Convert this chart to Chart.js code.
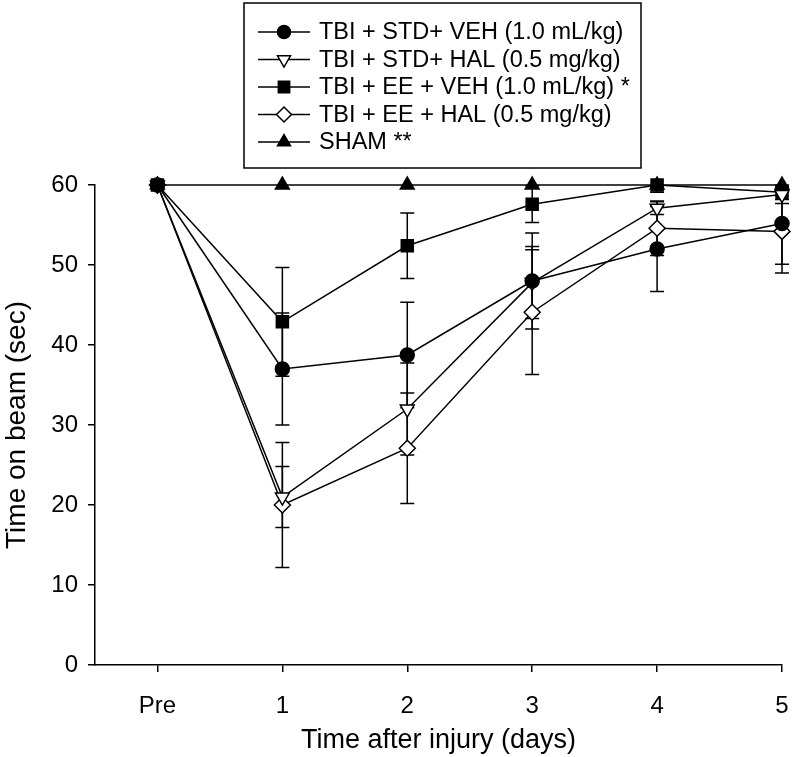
<!DOCTYPE html>
<html lang="en">
<head>
<meta charset="UTF-8">
<title>Time on beam</title>
<script src="https://cdn.jsdelivr.net/npm/chart.js"></script>
<style>
  body { margin: 0; background: #fff; }
  .chart-container { width: 792px; height: 757px; position: relative; }
</style>
</head>
<body>
<div class="chart-container"><canvas id="beamChart"></canvas></div>
<script>
// x categories
const dayLabels = ['Pre', '1', '2', '3', '4', '5'];
const yTicks = [0, 10, 20, 30, 40, 50, 60];

// series (mean, +/- error)
const stdVeh    = [60, 37.0, 38.75, 48.0, 52.0, 55.2];
const stdVehErr = [0, 7.0, 6.6, 6.0, 5.3, 5.1];
const stdHal    = [60, 21.0, 32.0, 47.8, 57.1, 58.8];
const stdHalErr = [0, 3.8, 5.75, 4.5, 0.8, 1.1];
const eeVeh     = [60, 42.9, 52.4, 57.6, 60.0, 59.1];
const eeVehErr  = [0, 6.8, 4.1, 2.3, 0.9, 0.9];
const eeHal     = [60, 20.0, 27.1, 44.1, 54.6, 54.2];
const eeHalErr  = [0, 7.8, 6.9, 7.8, 3.4, 5.2];
const sham      = [60, 60, 60, 60, 60, 60];

const seriesNames = [
    'TBI + STD+ VEH (1.0 mL/kg)',
    'TBI + STD+ HAL (0.5 mg/kg)',
    'TBI + EE + VEH (1.0 mL/kg) *',
    'TBI + EE + HAL (0.5 mg/kg)',
    'SHAM **'
];

const FONT = "'Liberation Sans', Arial, Helvetica, sans-serif";

function toPoints(arr) {
    return arr.map((v, i) => ({ x: i, y: v }));
}

function makeSet(name, values, errs, style, filled, radius, rotation) {
    return {
        label: name,
        data: toPoints(values),
        errors: errs,
        borderColor: '#000',
        borderWidth: 1.5,
        backgroundColor: filled ? '#000' : '#fff',
        pointStyle: style,
        pointRadius: radius,
        pointHoverRadius: radius,
        pointRotation: rotation || 0,
        pointBorderWidth: 1.5,
        pointBorderColor: '#000',
        pointBackgroundColor: filled ? '#000' : '#fff',
        tension: 0,
        fill: false,
        clip: false
    };
}

const datasets = [
    makeSet(seriesNames[4], sham, null, 'triangle', true, 8, 0),
    makeSet(seriesNames[0], stdVeh, stdVehErr, 'circle', true, 7, 0),
    makeSet(seriesNames[1], stdHal, stdHalErr, 'triangle', false, 8, 180),
    makeSet(seriesNames[2], eeVeh, eeVehErr, 'rect', true, 8.5, 0),
    makeSet(seriesNames[3], eeHal, eeHalErr, 'rectRot', false, 8, 0)
];
// legend order as in the figure
const legendOrder = [1, 2, 3, 4, 0];

const errorBars = {
    id: 'errorBars',
    beforeDatasetsDraw(chart) {
        const { ctx, scales: { x, y } } = chart;
        ctx.save();
        ctx.strokeStyle = '#000';
        ctx.lineWidth = 1.5;
        chart.data.datasets.forEach(ds => {
            if (!ds.errors) return;
            ds.data.forEach((p, j) => {
                const e = ds.errors[j];
                if (!e) return;
                const px = x.getPixelForValue(p.x);
                const hi = y.getPixelForValue(p.y + e);
                const lo = y.getPixelForValue(p.y - e);
                const top = Math.max(hi, y.top);
                ctx.beginPath();
                ctx.moveTo(px, top);
                ctx.lineTo(px, lo);
                if (hi >= y.top - 0.5) {
                    ctx.moveTo(px - 7, hi);
                    ctx.lineTo(px + 7, hi);
                }
                ctx.moveTo(px - 7, lo);
                ctx.lineTo(px + 7, lo);
                ctx.stroke();
            });
        });
        ctx.restore();
    }
};

const boxLegend = {
    id: 'boxLegend',
    afterDraw(chart) {
        const ctx = chart.ctx;
        const box = { left: 244, top: 3, right: 641, bottom: 168 };
        ctx.save();
        ctx.strokeStyle = '#000';
        ctx.lineWidth = 1.5;
        ctx.strokeRect(box.left, box.top, box.right - box.left, box.bottom - box.top);
        ctx.font = '23.5px ' + FONT;
        ctx.textBaseline = 'middle';
        ctx.textAlign = 'left';
        legendOrder.forEach((idx, row) => {
            const ds = chart.data.datasets[idx];
            const yy = 32 + row * 27.5;
            ctx.beginPath();
            ctx.moveTo(258, yy);
            ctx.lineTo(310, yy);
            ctx.stroke();
            ctx.fillStyle = ds.pointBackgroundColor;
            ctx.strokeStyle = '#000';
            Chart.helpers.drawPoint(ctx, {
                pointStyle: ds.pointStyle,
                radius: ds.pointRadius - 0.5,
                rotation: ds.pointRotation,
                borderWidth: 1.5
            }, 284, yy);
            ctx.fillStyle = '#000';
            ctx.fillText(ds.label, 319, yy + 1);
        });
        ctx.restore();
    }
};

new Chart(document.getElementById('beamChart'), {
    type: 'line',
    data: { datasets: datasets },
    options: {
        responsive: true,
        maintainAspectRatio: false,
        animation: false,
        layout: { padding: { top: 185, right: 10, left: 0, bottom: 0 } },
        plugins: {
            legend: { display: false },
            tooltip: { enabled: false }
        },
        scales: {
            x: {
                type: 'linear',
                min: -0.5,
                max: 5,
                afterBuildTicks: axis => { axis.ticks = dayLabels.map((_, i) => ({ value: i })); },
                afterFit: axis => { axis.height = 92; axis.paddingRight = 0; axis.paddingLeft = 0; },
                grid: { drawOnChartArea: false, drawTicks: true, tickLength: 7, color: '#000', lineWidth: 1.5 },
                border: { display: true, color: '#000', width: 1.5 },
                ticks: {
                    color: '#000',
                    padding: 20,
                    maxRotation: 0,
                    font: { family: FONT, size: 24 },
                    callback: value => dayLabels[value]
                },
                title: {
                    display: true,
                    text: 'Time after injury (days)',
                    color: '#000',
                    font: { family: FONT, size: 27, lineHeight: 1.2 },
                    padding: { top: 0, bottom: 0 }
                }
            },
            y: {
                min: 0,
                max: 60,
                afterBuildTicks: axis => { axis.ticks = yTicks.map(v => ({ value: v })); },
                afterFit: axis => { axis.width = 95; axis.paddingTop = 0; axis.paddingBottom = 0; },
                grid: { drawOnChartArea: false, drawTicks: true, tickLength: 7, color: '#000', lineWidth: 1.5 },
                border: { display: true, color: '#000', width: 1.5 },
                ticks: {
                    color: '#000',
                    padding: 10,
                    font: { family: FONT, size: 24 }
                },
                title: {
                    display: true,
                    text: 'Time on beam (sec)',
                    color: '#000',
                    font: { family: FONT, size: 28, lineHeight: 1.2 },
                    padding: { top: 0, bottom: 0 }
                }
            }
        }
    },
    plugins: [errorBars, boxLegend]
});
</script>
</body>
</html>
